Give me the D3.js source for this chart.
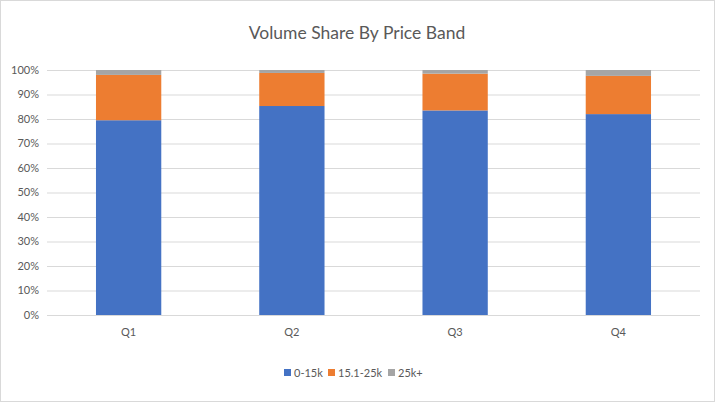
<!DOCTYPE html>
<html><head><meta charset="utf-8">
<script src="https://cdn.jsdelivr.net/npm/d3@7"></script>
<style>body{margin:0;background:#fff;} svg{display:block;font-family:Lato,"Open Sans",sans-serif;}</style>
</head><body>
<svg id="c" width="715" height="402"></svg>
<script>
const categories = ["Q1","Q2","Q3","Q4"];
const series = ["0-15k","15.1-25k","25k+"];
const band0to15 = [79.5, 85.3, 83.5, 82.0];
const band15to25 = [18.5, 13.5, 15.0, 15.6];
const band25plus = [2.0, 1.2, 1.5, 2.4];
const yTicks = [0,10,20,30,40,50,60,70,80,90,100];
const colors = ["#4472C4","#ED7D31","#A5A5A5"];

(function(){
const svg = d3.select("#c");
const W = 715, H = 402;
svg.append("rect").attr("x",0.5).attr("y",0.5).attr("width",W-1).attr("height",H-1)
  .attr("fill","#fff").attr("stroke","#d9d9d9");

const mL = 47, mR = 700, mT = 70, mB = 315;
const x = d3.scaleBand().domain(categories).range([mL,mR]).paddingInner(0.6).paddingOuter(0.3);
const y = d3.scaleLinear().domain([0,100]).range([mB,mT]);

svg.append("g").selectAll("line").data(yTicks).join("line")
  .attr("x1",mL).attr("x2",mR)
  .attr("y1",d=>y(d)+0.5).attr("y2",d=>y(d)+0.5)
  .attr("stroke","#d9d9d9").attr("stroke-width",1);

svg.append("g").selectAll("text").data(yTicks).join("text")
  .attr("x",39).attr("y",d=>y(d)).attr("dy","0.35em")
  .attr("text-anchor","end").attr("font-size",11).attr("fill","#595959")
  .text(d=>d+"%");

const rows = categories.map((c,i)=>({cat:c,"0-15k":band0to15[i],"15.1-25k":band15to25[i],"25k+":band25plus[i]}));
const stacked = d3.stack().keys(series)(rows);

svg.append("g").selectAll("g").data(stacked).join("g")
  .attr("fill",(d,i)=>colors[i])
  .selectAll("rect").data(d=>d).join("rect")
  .attr("x",d=>x(d.data.cat))
  .attr("width",x.bandwidth())
  .attr("y",d=>y(d[1]))
  .attr("height",d=>y(d[0])-y(d[1]));

svg.append("g").selectAll("text").data(categories).join("text")
  .attr("x",d=>x(d)+x.bandwidth()/2).attr("y",336)
  .attr("text-anchor","middle").attr("font-size",11).attr("fill","#595959")
  .text(d=>d);

svg.append("text").attr("x",357).attr("y",39).attr("text-anchor","middle")
  .attr("font-size",17.5).attr("fill","#595959").text("Volume Share By Price Band");

const legendX = [284, 328, 388];
const lg = svg.append("g").selectAll("g").data(series).join("g")
  .attr("transform",(d,i)=>`translate(${legendX[i]},373)`);
lg.append("rect").attr("x",0).attr("y",-4).attr("width",7).attr("height",7).attr("fill",(d,i)=>colors[i]);
lg.append("text").attr("x",10).attr("y",0).attr("dy","0.35em")
  .attr("font-size",11).attr("fill","#595959").text(d=>d);
})();
</script>
</body></html>
